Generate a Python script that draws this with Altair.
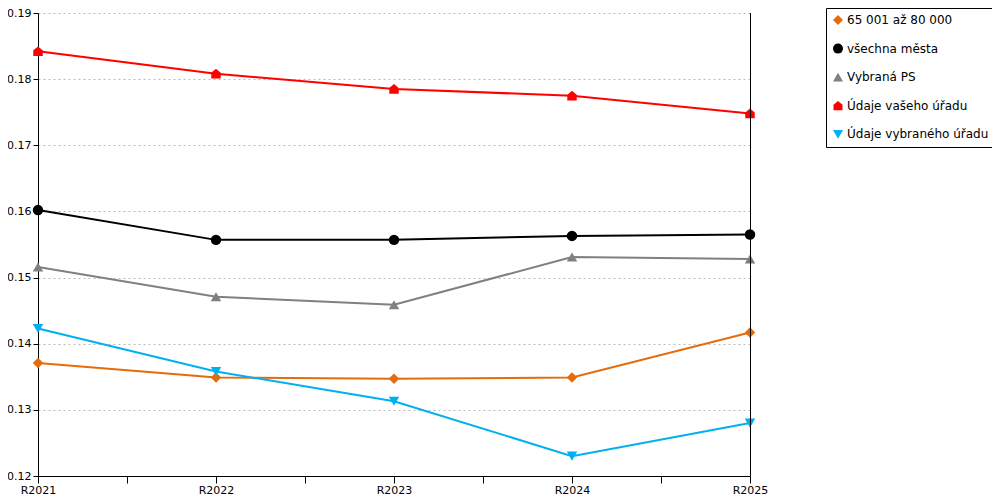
import altair as alt
import pandas as pd

years = ["R2021", "R2022", "R2023", "R2024", "R2025"]
series = ["65 001 až 80 000", "všechna města", "Vybraná PS",
          "Údaje vašeho úřadu", "Údaje vybraného úřadu"]
v_orange = [0.1371, 0.1349, 0.1347, 0.1349, 0.1417]
v_black = [0.1602, 0.1557, 0.1557, 0.1563, 0.1565]
v_gray = [0.1516, 0.1471, 0.1459, 0.1531, 0.1528]
v_red = [0.1842, 0.1808, 0.1785, 0.1775, 0.1748]
v_blue = [0.1423, 0.1358, 0.1313, 0.1230, 0.1280]
y_ticks = [0.12, 0.13, 0.14, 0.15, 0.16, 0.17, 0.18, 0.19]

colors = ["#E46C0A", "#000000", "#808080", "#FF0000", "#00B0F0"]
house = "M-0.9,0.9L-0.9,-0.2L0,-0.95L0.9,-0.2L0.9,0.9Z"
shapes = ["diamond", "circle", "triangle-up", house, "triangle-down"]

rows = []
for s, vals in zip(series, [v_orange, v_black, v_gray, v_red, v_blue]):
    for i, (yr, v) in enumerate(zip(years, vals)):
        rows.append({"series": s, "year": yr, "idx": i, "value": v})
df = pd.DataFrame(rows)

n = len(years) - 1
x_vals = [k / 2 for k in range(2 * n + 1)]
label_expr = ("datum.value % 1 === 0 ? " + str(years) + "[datum.value] : ''")

x_enc = alt.X("idx:Q", scale=alt.Scale(domain=[0, n], nice=False),
              axis=alt.Axis(values=x_vals, labelExpr=label_expr, grid=False,
                            tickSize=7, labelPadding=1, labelFontSize=11,
                            labelFont="DejaVu Sans", labelColor="#000000",
                            domainColor="#000000", tickColor="#000000",
                            labelFlush=False, labelOverlap=False, title=None))
y_enc = alt.Y("value:Q", scale=alt.Scale(domain=[0.12, 0.19], nice=False, zero=False),
              axis=alt.Axis(values=y_ticks, format=".2f", grid=True,
                            gridDash=[2, 3], gridColor="#bbbbbb",
                            tickSize=5, labelFontSize=11, labelFont="DejaVu Sans",
                            labelColor="#000000", domainColor="#000000",
                            tickColor="#000000", labelFlush=False, title=None))

legend = alt.Legend(title=None, orient="none", legendX=788, legendY=-5,
                    strokeColor="#000000", fillColor="#ffffff", padding=6,
                    rowPadding=16.6, labelFontSize=12, labelFont="DejaVu Sans",
                    labelColor="#000000", symbolSize=100, symbolStrokeWidth=0,
                    labelOffset=3)

color_enc = alt.Color("series:N", scale=alt.Scale(domain=series, range=colors), legend=legend)

lines = alt.Chart(df).mark_line(strokeWidth=2).encode(
    x=x_enc, y=y_enc, color=color_enc,
)

points = alt.Chart(df).mark_point(filled=True, opacity=1, size=110).encode(
    x=x_enc, y=y_enc, color=color_enc,
    shape=alt.Shape("series:N", scale=alt.Scale(domain=series, range=shapes), legend=legend),
)

right_rule = alt.Chart(df).mark_rule(color="#000000", strokeWidth=1, xOffset=0.5).encode(
    x=alt.datum(n)
)

chart = alt.layer(lines, points, right_rule).properties(
    width=712, height=463,
    autosize=alt.AutoSizeParams(type="none"),
    padding={"left": 30, "top": 5, "right": 242, "bottom": 24},
).configure_view(stroke=None)

chart.save("out.html", embed_options={"renderer": "svg", "actions": False})
